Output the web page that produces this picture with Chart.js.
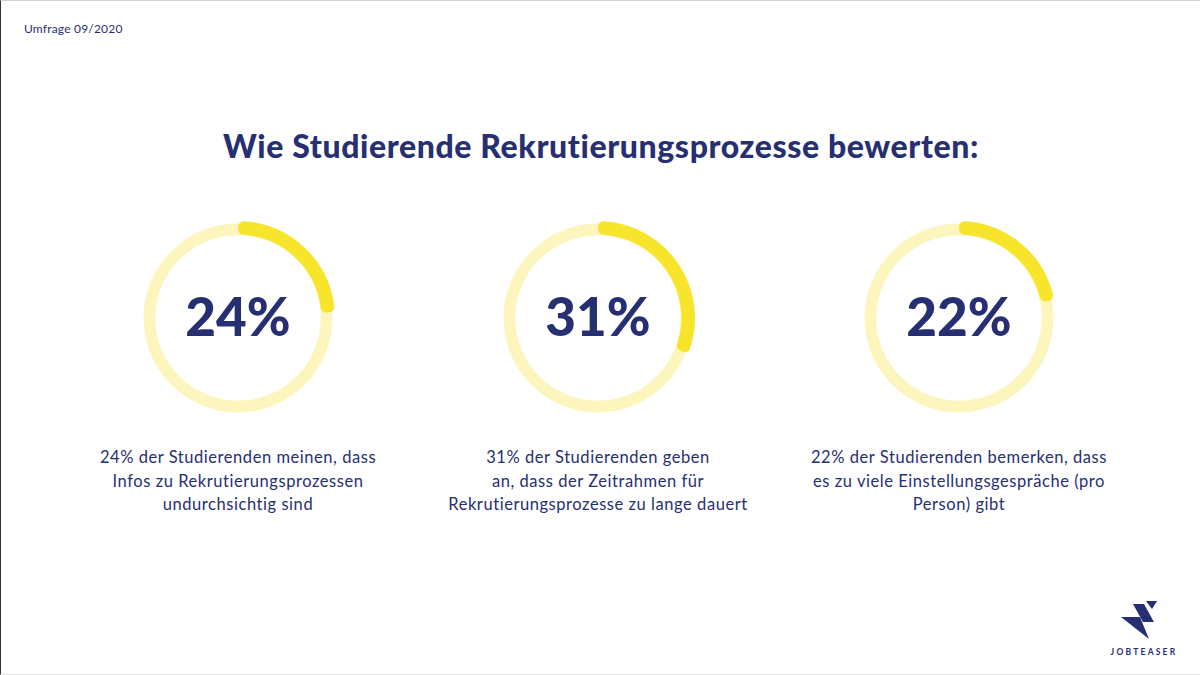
<!DOCTYPE html>
<html lang="de">
<head>
    <meta charset="UTF-8">
    <script src="https://cdn.jsdelivr.net/npm/chart.js"></script>
    <title>Wie Studierende Rekrutierungsprozesse bewerten</title>
    <style>
        body {
            margin: 0;
            background: #ffffff;
            font-family: 'Lato', sans-serif;
            color: #272f73;
        }

        .page {
            position: relative;
            width: 1200px;
            height: 675px;
            box-sizing: border-box;
            border-top: 1px solid #d4d4d4;
            border-bottom: 1px solid #e2e2e2;
            border-left: 1px solid #333;
            overflow: hidden;
        }

        .survey {
            position: absolute;
            left: 23px;
            top: 20px;
            font-size: 12px;
            letter-spacing: 0.2px;
        }

        h1 {
            position: absolute;
            left: 0;
            width: 1200px;
            top: 125px;
            margin: 0;
            text-align: center;
            font-size: 32px;
            font-weight: 900;
            letter-spacing: 0.6px;
        }

        /* one donut = track canvas + arc canvas on top of each other */
        .donut {
            position: absolute;
            width: 200px;
            height: 200px;
        }

        .donut canvas {
            position: absolute;
            left: 0;
            top: 0;
        }

        .donut .value {
            position: absolute;
            left: 0;
            width: 200px;
            top: 66px;
            text-align: center;
            font-size: 53px;
            font-weight: 900;
        }

        .caption {
            position: absolute;
            width: 380px;
            top: 445px;
            text-align: center;
            font-size: 16.5px;
            letter-spacing: 0.55px;
            line-height: 23.5px;
        }

        .logo {
            position: absolute;
            left: 1108px;
            top: 598px;
            width: 70px;
            text-align: center;
        }

        .logo svg {
            margin-left: 5px;
        }

        .logo span {
            display: block;
            font-size: 8.5px;
            font-weight: 700;
            letter-spacing: 2.2px;
            margin-top: 3px;
        }
    </style>
</head>
<body>
    <div class="page" id="page">
        <div class="survey">Umfrage 09/2020</div>
        <h1>Wie Studierende Rekrutierungsprozesse bewerten:</h1>

        <div class="logo">
            <svg width="70" height="42" viewBox="0 0 70 42">
                <polygon points="32,2 43,2 38,10" fill="#272f73"/>
                <polygon points="19,5 30,5 40,23 29,23" fill="#272f73"/>
                <polygon points="7,18 26,18 35,40" fill="#272f73"/>
            </svg>
            <span>JOBTEASER</span>
        </div>
    </div>

    <script>
        // survey values (percent of students)
        const values = [24, 31, 22];
        const captions = [
            ['24% der Studierenden meinen, dass', 'Infos zu Rekrutierungsprozessen', 'undurchsichtig sind'],
            ['31% der Studierenden geben', 'an, dass der Zeitrahmen für', 'Rekrutierungsprozesse zu lange dauert'],
            ['22% der Studierenden bemerken, dass', 'es zu viele Einstellungsgespräche (pro', 'Person) gibt']
        ];
        const centersX = [237, 597, 958];

        const yellow = '#f6e52b';
        const track = '#fcf5bd';

        const page = document.getElementById('page');

        values.forEach(function (v, i) {
            const box = document.createElement('div');
            box.className = 'donut';
            box.style.left = (centersX[i] - 100) + 'px';
            box.style.top = '217px';
            page.appendChild(box);

            const c1 = document.createElement('canvas');
            c1.width = 200; c1.height = 200;
            const c2 = document.createElement('canvas');
            c2.width = 200; c2.height = 200;
            box.appendChild(c1);
            box.appendChild(c2);

            const common = {
                responsive: false,
                animation: false,
                events: [],
                plugins: { legend: { display: false }, tooltip: { enabled: false } }
            };

            // light track (full ring)
            new Chart(c1, {
                type: 'doughnut',
                data: { labels: ['gesamt'], datasets: [{ data: [100], backgroundColor: [track], borderWidth: 0 }] },
                options: Object.assign({ radius: 94.5, cutout: 87.5 }, common)
            });

            // value arc
            new Chart(c2, {
                type: 'doughnut',
                data: {
                    labels: ['ja', 'rest'],
                    datasets: [{
                        data: [v, 100 - v],
                        backgroundColor: [yellow, 'rgba(0,0,0,0)'],
                        borderWidth: 0,
                        borderRadius: 5.5
                    }]
                },
                options: Object.assign({ radius: 97, cutout: 86 }, common)
            });

            const label = document.createElement('div');
            label.className = 'value';
            label.textContent = v + '%';
            box.appendChild(label);

            const cap = document.createElement('div');
            cap.className = 'caption';
            cap.style.left = (centersX[i] - 190) + 'px';
            cap.innerHTML = captions[i].join('<br>');
            page.appendChild(cap);
        });
    </script>
</body>
</html>
